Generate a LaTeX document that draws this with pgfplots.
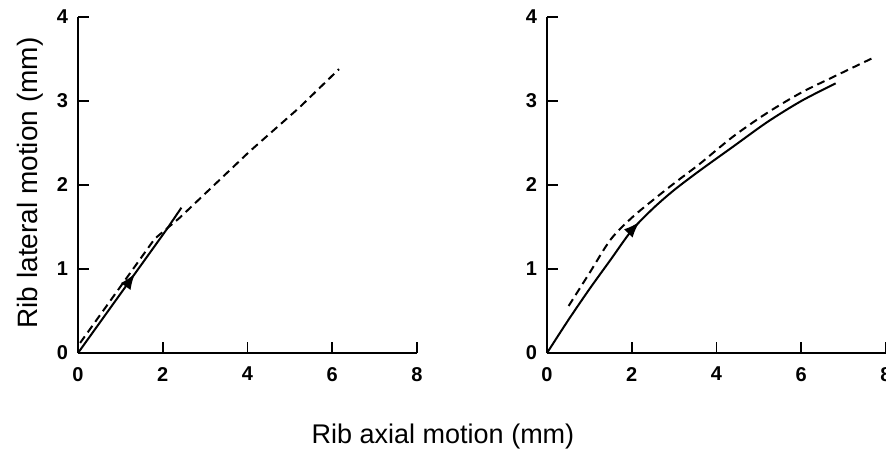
\documentclass[border=0pt]{standalone}
\usepackage{pgfplots}
\pgfplotsset{compat=1.18}
\usepackage{fontspec}
\setmainfont{Liberation Sans}
\usetikzlibrary{decorations.markings,arrows.meta}

\newcommand{\tickfont}{\fontsize{10}{11}\selectfont\bfseries}

\pgfplotsset{
  ribax/.style={
    scale only axis, width=169.5pt, height=168pt,
    xmin=0, xmax=8, ymin=0, ymax=4,
    axis lines=left, axis line style={-, line width=1pt},
    tick align=inside, major tick length=5.5pt,
    tick style={line width=0.9pt, black},
    xtick={0,2,4,6,8}, ytick={0,1,2,3,4},
    xticklabel={\tickfont\pgfmathprintnumber[assume math mode=true]{\tick}},
    yticklabel={\tickfont\pgfmathprintnumber[assume math mode=true]{\tick}},
    xticklabel style={yshift=-3.5pt},
    yticklabel style={xshift=-1.5pt},
    clip=false,
  },
  solidc/.style={black, line width=1pt, no marks},
  dashc/.style={black, line width=1pt, no marks, dash pattern=on 4pt off 2.5pt},
  arr/.style={postaction={decorate}, decoration={markings,
    mark=at position #1 with {\arrow{Latex[length=8pt,width=6pt]}}}},
}

\begin{document}
\begin{tikzpicture}
\path[use as bounding box] (0,0) rectangle (443pt,228.5pt);

% left panel
\begin{axis}[ribax, at={(39pt,52pt)}, anchor=south west]
  \addplot[solidc, arr=0.55] coordinates {(0,0) (2.09,1.47) (2.44,1.73)};
  \addplot[dashc] coordinates {(0.05,0.12) (1.81,1.36) (2.4,1.61) (4.05,2.40) (5.22,2.92) (6.16,3.38)};
\end{axis}

% right panel
\begin{axis}[ribax, at={(273.5pt,52pt)}, anchor=south west]
  \addplot[solidc, smooth, arr=0.40] coordinates {(0,0) (0.5,0.39) (1.0,0.76) (1.5,1.11) (2.0,1.46) (2.5,1.72) (3.0,1.94) (3.6,2.17) (4.4,2.46) (5.2,2.75) (6.0,3.0) (6.81,3.21)};
  \addplot[dashc, smooth] coordinates {(0.51,0.56) (1.0,0.95) (1.5,1.35) (2.0,1.61) (2.5,1.82) (3.0,2.02) (3.6,2.25) (4.4,2.58) (5.2,2.86) (6.0,3.10) (6.77,3.29) (7.68,3.51)};
\end{axis}

\node[rotate=90, anchor=base, font=\fontsize{14}{16}\selectfont] at (18.5pt,137pt) {Rib lateral motion (mm)};
\node[anchor=base, font=\fontsize{13.5}{16}\selectfont] at (221.5pt,7pt) {Rib axial motion (mm)};
\end{tikzpicture}
\end{document}
